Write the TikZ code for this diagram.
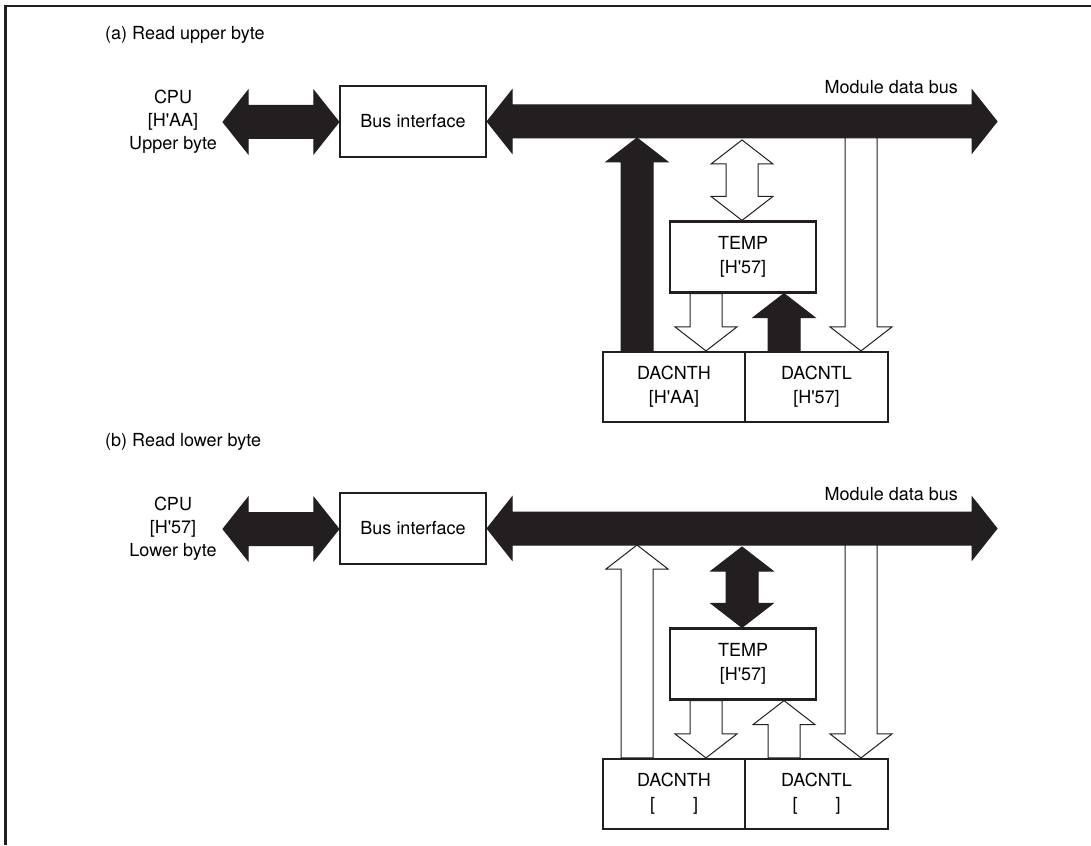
\documentclass[tikz,border=0pt]{standalone}
\usepackage{fontspec}
\setmainfont{TeX Gyre Heros}
\usetikzlibrary{calc}

\definecolor{ink}{RGB}{35,31,32}

\tikzset{
  box/.style={draw=ink, line width=2.2pt, fill=white, minimum width=146pt,
    minimum height=71pt, align=center, inner sep=0pt,
    font=\fontsize{18}{24}\selectfont},
  lbl/.style={align=center, inner sep=0pt, font=\fontsize{18}{23}\selectfont},
  barrow/.style={draw=ink, line width=1pt, line join=miter},
}

% straight apostrophe as in the original
\newcommand{\ap}{\textquotesingle}

% block arrows (shaft half width 16pt, head half width 31pt, head length 24pt)
\newcommand{\blockup}[3][white]{%
  \draw[barrow, fill=#1] let \p1=(#2), \p2=(#3) in
    (\x1-16pt,\y1) -- (\x1-16pt,\y2-24pt) -- (\x1-31pt,\y2-24pt) -- (\x1,\y2)
    -- (\x1+31pt,\y2-24pt) -- (\x1+16pt,\y2-24pt) -- (\x1+16pt,\y1) -- cycle;}
\newcommand{\blockdown}[3][white]{%
  \draw[barrow, fill=#1] let \p1=(#2), \p2=(#3) in
    (\x1-16pt,\y1) -- (\x1-16pt,\y2+24pt) -- (\x1-31pt,\y2+24pt) -- (\x1,\y2)
    -- (\x1+31pt,\y2+24pt) -- (\x1+16pt,\y2+24pt) -- (\x1+16pt,\y1) -- cycle;}
\newcommand{\blockupdown}[3][white]{%
  \draw[barrow, fill=#1] let \p1=(#2), \p2=(#3) in
    (\x1,\y1) -- (\x1+31pt,\y1-24pt) -- (\x1+16pt,\y1-24pt) -- (\x1+16pt,\y2+24pt)
    -- (\x1+31pt,\y2+24pt) -- (\x1,\y2) -- (\x1-31pt,\y2+24pt) -- (\x1-16pt,\y2+24pt)
    -- (\x1-16pt,\y1-24pt) -- (\x1-31pt,\y1-24pt) -- cycle;}
\newcommand{\blockleftright}[3][ink]{%
  \draw[barrow, fill=#1] let \p1=(#2), \p2=(#3) in
    (\x1,\y1) -- (\x1+25pt,\y1+31.5pt) -- (\x1+25pt,\y1+16.5pt) -- (\x2-25pt,\y1+16.5pt)
    -- (\x2-25pt,\y1+31.5pt) -- (\x2,\y1) -- (\x2-25pt,\y1-31.5pt) -- (\x2-25pt,\y1-16.5pt)
    -- (\x1+25pt,\y1-16.5pt) -- (\x1+25pt,\y1-31.5pt) -- cycle;}

\begin{document}
\begin{tikzpicture}[x=1pt, y=-1pt]
\useasboundingbox (0,0) rectangle (1091,845);

% frame
\draw[ink, line width=2.5pt] (5.5,845) -- (5.5,6) -- (1091,6);

% ---------------- (a) Read upper byte ----------------
\node[lbl, anchor=west] (tta) at (105,35) {(a) Read upper byte};
\node[lbl] (cpua) at (173,122) {CPU\\{}[H\ap AA]\\Upper byte};
\node[lbl, anchor=east] (busla) at (958,87) {Module data bus};

\node[box] (bia) at (413,121.5) {Bus interface};
\node[box] (tmpa) at (743,257) {TEMP\\{}[H\ap 57]};
\node[box, minimum width=142pt, minimum height=70pt] (dha) at (674,387) {DACNTH\\{}[H\ap AA]};
\node[box, minimum width=143pt, minimum height=70pt] (dla) at (816.5,387) {DACNTL\\{}[H\ap 57]};

\coordinate (cpuLa) at (223,122);
\coordinate (busRa) at (997,122);
\coordinate (c1a) at (637,138); % DACNTH -> bus
\coordinate (c2a) at (742,140); % bus <-> TEMP
\coordinate (c3a) at (706,0);   % TEMP -> DACNTH
\coordinate (c4a) at (784,0);   % DACNTL -> TEMP
\coordinate (c5a) at (861,138); % bus -> DACNTL

\blockleftright{cpuLa}{bia.west}
\blockleftright{bia.east}{busRa}
\blockup[ink]{c1a |- dha.north}{c1a}
\blockupdown{c2a}{tmpa.north}
\blockdown{c3a |- tmpa.south}{c3a |- dha.north}
\blockup[ink]{c4a |- dla.north}{c4a |- tmpa.south}
\blockdown{c5a}{c5a |- dla.north}

% ---------------- (b) Read lower byte ----------------
\node[lbl, anchor=west] (ttb) at (105,442) {(b) Read lower byte};
\node[lbl] (cpub) at (173,529) {CPU\\{}[H\ap 57]\\Lower byte};
\node[lbl, anchor=east] (buslb) at (958,494) {Module data bus};

\node[box] (bib) at (413,528.5) {Bus interface};
\node[box] (tmpb) at (743,664) {TEMP\\{}[H\ap 57]};
\node[box, minimum width=142pt, minimum height=70pt] (dhb) at (674,794) {DACNTH\\{}[\hspace{38pt}]};
\node[box, minimum width=143pt, minimum height=70pt] (dlb) at (816.5,794) {DACNTL\\{}[\hspace{38pt}]};

\coordinate (cpuLb) at (223,529);
\coordinate (busRb) at (997,529);
\coordinate (c1b) at (637,545);
\coordinate (c2b) at (742,547);
\coordinate (c3b) at (706,0);
\coordinate (c4b) at (784,0);
\coordinate (c5b) at (861,545);

\blockleftright{cpuLb}{bib.west}
\blockleftright{bib.east}{busRb}
\blockup{c1b |- dhb.north}{c1b}
\blockupdown[ink]{c2b}{tmpb.north}
\blockdown{c3b |- tmpb.south}{c3b |- dhb.north}
\blockup{c4b |- dlb.north}{c4b |- tmpb.south}
\blockdown{c5b}{c5b |- dlb.north}

\end{tikzpicture}
\end{document}
